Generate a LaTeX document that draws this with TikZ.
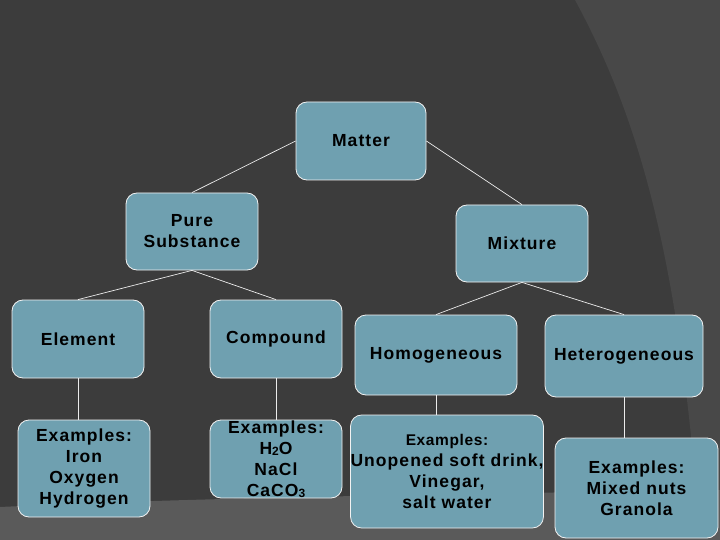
\documentclass[tikz,border=0pt]{standalone}
\usepackage{fontspec}
\setmainfont{Liberation Sans}[LetterSpace=6]
\newcommand{\sbs}[1]{\raisebox{-0.5pt}{\fontsize{12}{12}\selectfont #1}}
\begin{document}
\begin{tikzpicture}[x=1pt,y=-1pt,
  bx/.style={draw=white!90!gray, line width=0.8pt, fill=boxc, text=black, rounded corners=11pt, align=center,
    font=\fontsize{17.5}{21}\selectfont\bfseries, inner sep=0pt},
  ln/.style={draw=white!85!gray, line width=0.7pt}]
\definecolor{boxc}{RGB}{111,160,176}
\definecolor{bg}{RGB}{60,60,60}
\definecolor{bgarc}{RGB}{72,72,72}
\definecolor{bgbot}{RGB}{90,90,90}
\fill[bg] (0,0) rectangle (720,540);
\fill[bgarc] (575,0) .. controls (640,120) and (680,260) .. (700,540) -- (720,540) -- (720,0) -- cycle;
\fill[bgbot] (0,507) .. controls (150,500) and (300,496) .. (720,490) -- (720,540) -- (0,540) -- cycle;
\useasboundingbox (0,0) rectangle (720,540);
\def\B#1#2#3#4#5#6{\node[bx, minimum width=#4-#2, minimum height=#5-#3] (#1) at ({(#2+#4)/2},{(#3+#5)/2}) {#6};}
\B{matter}{296}{102}{426}{180}{Matter}
\B{pure}{126}{193}{258}{270}{Pure\\Substance}
\B{mix}{456}{205}{588}{282}{Mixture}
\B{elem}{12}{300}{144}{378}{Element}
\B{comp}{210}{300}{342}{378}{Compound}
\B{homo}{355}{315}{517}{395}{Homogeneous}
\B{hete}{545}{315}{703}{397}{Heterogeneous}
\B{exe}{18}{420}{150}{517}{Examples:\\Iron\\Oxygen\\Hydrogen}
\B{exc}{210}{420}{342}{498}{Examples:\\H\sbs{2}O\\NaCl\\CaCO\sbs{3}}
\B{exho}{353}{415}{541}{528}{\fontsize{15.5}{20}\selectfont\addfontfeatures{LetterSpace=4}Examples:\\Unopened soft drink,\\Vinegar,\\salt water}
\B{exhe}{555}{438}{718}{538}{Examples:\\Mixed nuts\\Granola}
\draw[ln] (matter.west) -- (pure.north);
\draw[ln] (matter.east) -- (mix.north);
\draw[ln] (pure.south) -- (elem.north);
\draw[ln] (pure.south) -- (comp.north);
\draw[ln] (mix.south) -- (homo.north);
\draw[ln] (mix.south) -- (hete.north);
\draw[ln] (elem.south) -- (elem.south |- exe.north);
\draw[ln] (comp.south) -- (exc.north);
\draw[ln] (homo.south) -- (homo.south |- exho.north);
\draw[ln] (hete.south) -- (hete.south |- exhe.north);
\end{tikzpicture}
\end{document}
